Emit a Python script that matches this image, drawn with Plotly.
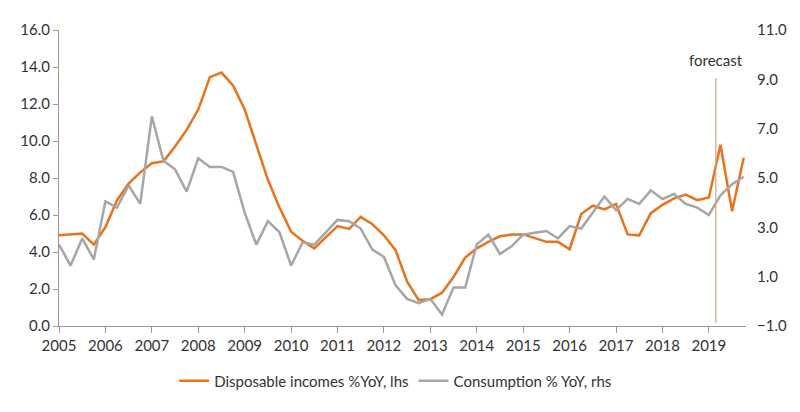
import plotly.graph_objects as go

# quarterly, 2005Q1 .. 2019Q4
quarters = [2005 + k / 4 for k in range(60)]

disposable_income = [
    4.9, 4.95, 5.0, 4.4, 5.35, 6.8, 7.7, 8.3, 8.8, 8.9,
    9.7, 10.6, 11.7, 13.45, 13.7, 13.0, 11.7, 9.8, 7.9, 6.4,
    5.1, 4.6, 4.2, 4.8, 5.4, 5.25, 5.9, 5.5, 4.9, 4.1,
    2.4, 1.4, 1.45, 1.8, 2.65, 3.7, 4.2, 4.55, 4.85, 4.95,
    4.95, 4.75, 4.55, 4.55, 4.15, 6.05, 6.5, 6.3, 6.6, 4.95,
    4.9, 6.1, 6.55, 6.9, 7.1, 6.8, 6.95, 9.8, 6.2, 9.1,
]

consumption = [
    2.3, 1.45, 2.55, 1.7, 4.05, 3.8, 4.7, 3.95, 7.5, 5.7,
    5.35, 4.45, 5.8, 5.45, 5.45, 5.25, 3.6, 2.3, 3.25, 2.8,
    1.45, 2.4, 2.3, 2.8, 3.3, 3.25, 2.95, 2.1, 1.8, 0.65,
    0.1, -0.07, 0.1, -0.53, 0.56, 0.56, 2.31, 2.7, 1.92, 2.23,
    2.7, 2.78, 2.85, 2.55, 3.05, 2.95, 3.6, 4.25, 3.7, 4.15,
    3.95, 4.5, 4.15, 4.35, 3.95, 3.8, 3.5, 4.3, 4.75, 5.05,
]

year_ticks = list(range(2005, 2020))
left_ticks = [0, 2, 4, 6, 8, 10, 12, 14, 16]
right_ticks = [-1, 1, 3, 5, 7, 9, 11]
forecast_x = 2019.15

ORANGE = "#e8731e"
GREY = "#a6a6a6"
TEXT = "#333333"

fig = go.Figure()
fig.add_trace(go.Scatter(x=quarters, y=disposable_income, mode="lines",
                         name="Disposable incomes %YoY, lhs",
                         line=dict(color=ORANGE, width=2.5)))
fig.add_trace(go.Scatter(x=quarters, y=consumption, mode="lines",
                         name="Consumption % YoY, rhs", yaxis="y2",
                         line=dict(color=GREY, width=2.5)))

fig.add_shape(type="line", x0=forecast_x, x1=forecast_x, xref="x",
              y0=0.01, y1=0.838, yref="paper",
              line=dict(color="#d9a47a", width=1.2))
fig.add_annotation(x=forecast_x, y=0.935, xref="x", yref="paper",
                   text="forecast", showarrow=False,
                   font=dict(size=15, color=TEXT))

fig.update_layout(
    width=800, height=412,
    margin=dict(l=44, r=62, t=12, b=94),
    plot_bgcolor="white", paper_bgcolor="white",
    font=dict(family="Lato, Open Sans, sans-serif", size=15, color=TEXT),
    xaxis=dict(range=[2005, 2019.8], tickvals=year_ticks, showgrid=False,
               showline=True, linecolor="#999999", ticks="outside",
               ticklen=6, tickcolor="#999999", zeroline=False),
    yaxis=dict(range=[0, 16], tickvals=left_ticks, tickformat=".1f",
               showgrid=False, showline=True, linecolor="#999999",
               ticks="outside", ticklen=5, tickcolor="#999999", zeroline=False),
    yaxis2=dict(range=[-1, 11], tickvals=right_ticks, tickformat=".1f",
                overlaying="y", side="right", showgrid=False, showline=False,
                zeroline=False, ticklabelstandoff=10),
    legend=dict(orientation="h", x=0.49, xanchor="center", y=-0.13,
                yanchor="top", font=dict(size=15)),
)

fig.write_html("out.html")
